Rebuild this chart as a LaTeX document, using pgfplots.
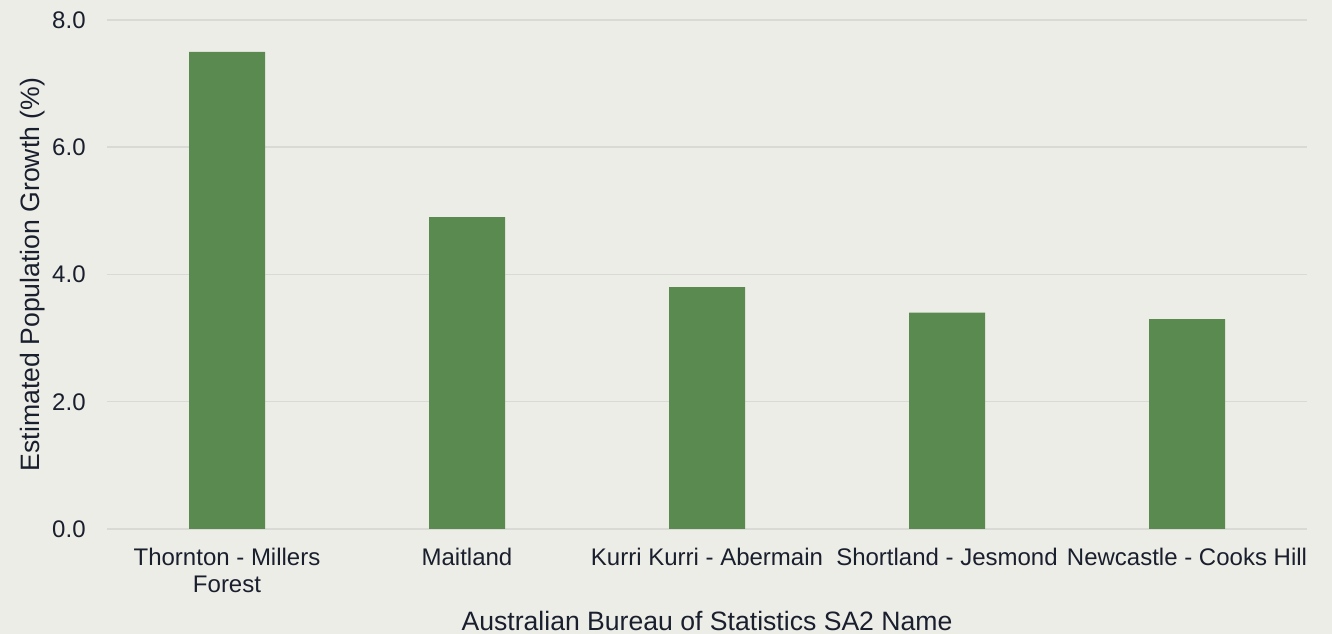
\documentclass[border=0pt]{standalone}
\usepackage{fontspec}
\setmainfont{Liberation Sans}
\usepackage{pgfplots}
\pgfplotsset{compat=1.18}
\usetikzlibrary{backgrounds}
\definecolor{bgc}{HTML}{EDEDE7}
\definecolor{barc}{HTML}{5B8A50}
\definecolor{gridc}{HTML}{D9D9D5}
\definecolor{txt}{HTML}{1A1F2E}
\begin{document}
\begin{tikzpicture}[font=\fontsize{12}{13.5}\selectfont]
\begin{axis}[
  name=ax,
  scale only axis,
  width=600pt, height=254.5pt,
  xmin=-0.5, xmax=4.5,
  ymin=0, ymax=8,
  ytick={0,2,4,6,8},
  xtick=data,
  xticklabels={{Thornton - Millers\\Forest},{Maitland},{Kurri Kurri - Abermain},{Shortland - Jesmond},{Newcastle - Cooks Hill}},
  ymajorgrids,
  grid style={gridc, line width=0.75pt},
  axis line style={draw=none},
  major tick length=0pt,
  tick style={draw=none},
  ybar,
  bar width=38pt,
  /pgf/number format/.cd, fixed, fixed zerofill, precision=1, assume math mode=true,
  /pgfplots/.cd,
  yticklabel style={inner sep=0pt, anchor=east, xshift=-10.5pt, text=txt},
  xticklabel style={inner sep=0pt, anchor=north, yshift=-9.5pt, align=center, text=txt},
  every axis x label/.style={at={(axis description cs:0.5,0)}, anchor=base, yshift=-51pt, inner sep=0pt, text=txt, font=\fontsize{13.3}{15}\selectfont},
  every axis y label/.style={at={(axis description cs:-0.0622,0.5)}, anchor=center, rotate=90, inner sep=0pt, text=txt, font=\fontsize{13.3}{15}\selectfont},
  xlabel={Australian Bureau of Statistics SA2 Name},
  ylabel={Estimated Population Growth (\%)},
]
\addplot[fill=barc, draw=none] coordinates {(0,7.5) (1,4.9) (2,3.8) (3,3.4) (4,3.3)};
\end{axis}
\begin{scope}[on background layer]
\fill[bgc] ([xshift=-53.5pt,yshift=-52.5pt]ax.south west) rectangle ([xshift=12.5pt,yshift=10pt]ax.north east);
\end{scope}
\end{tikzpicture}
\end{document}
